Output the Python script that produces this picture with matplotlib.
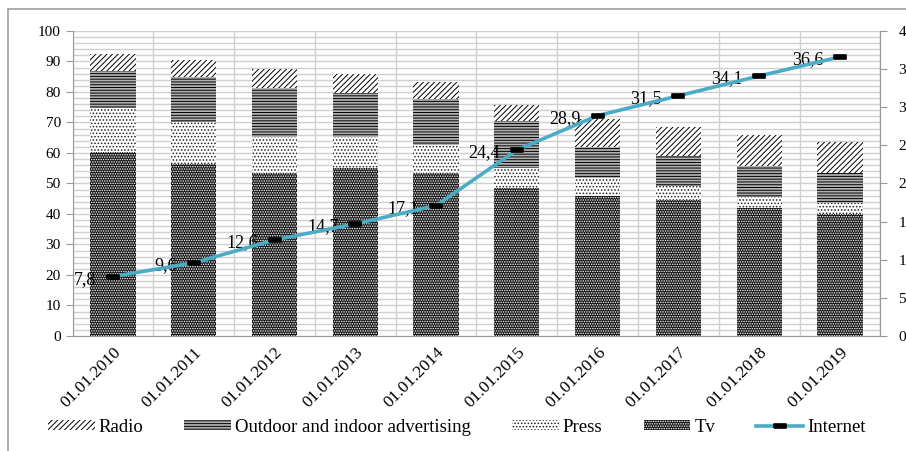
import numpy as np
import matplotlib
matplotlib.use('Agg')
import matplotlib.pyplot as plt
from matplotlib.lines import Line2D

plt.rcParams['font.family'] = ['Liberation Serif', 'DejaVu Serif']
plt.rcParams['hatch.linewidth'] = 0.7

# values (left axis, stacked)
years = ['01.01.2010', '01.01.2011', '01.01.2012', '01.01.2013', '01.01.2014',
         '01.01.2015', '01.01.2016', '01.01.2017', '01.01.2018', '01.01.2019']
tv       = [60.2, 56.3, 53.3, 55.0, 53.5, 48.6, 45.9, 44.6, 42.1, 40.0]
press    = [14.7, 13.8, 12.0, 10.3,  9.1,  6.6,  6.0,  4.7,  3.6,  3.5]
outdoor  = [12.0, 14.9, 16.1, 14.3, 15.0, 15.3, 10.2,  9.8, 10.1, 10.0]
radio    = [ 5.5,  5.5,  6.1,  6.2,  5.6,  5.2,  9.0,  9.3, 10.1, 10.0]
# right axis
internet = [7.8, 9.6, 12.6, 14.7, 17.1, 24.4, 28.9, 31.5, 34.1, 36.6]

fig = plt.figure(figsize=(9.06, 4.51), dpi=100)
ax = fig.add_axes([0.0801, 0.255, 0.8916, 0.6763])

x = np.arange(len(years))
w = 0.56
b1 = np.array(tv)
b2 = b1 + np.array(press)
b3 = b2 + np.array(outdoor)

h_tv = ax.bar(x, tv, w, color='#151515', edgecolor='white', hatch='.......',
              linewidth=0, label='Tv', zorder=3)
h_press = ax.bar(x, press, w, bottom=b1, color='white', edgecolor='#222222',
                 hatch='.....', linewidth=0, label='Press', zorder=3)
h_out = ax.bar(x, outdoor, w, bottom=b2, color='#b0b0b0', edgecolor='black',
               hatch='------', linewidth=0, label='Outdoor and indoor advertising', zorder=3)
h_radio = ax.bar(x, radio, w, bottom=b3, color='white', edgecolor='black',
                 hatch='//////', linewidth=0, label='Radio', zorder=3)

ax.set_xlim(-0.5, len(years) - 0.5)
ax.set_ylim(0, 100)
ax.set_yticks(range(0, 101, 10))
ax.set_yticks(range(0, 101, 2), minor=True)
ax.set_xticks(x)
ax.set_xticklabels(years, rotation=45, ha='right', rotation_mode='anchor', fontsize=12.5)
ax.set_xticks(np.arange(-0.5, len(years), 1), minor=True)
ax.tick_params(axis='x', which='both', length=0, pad=6)
ax.tick_params(axis='y', which='major', labelsize=11, length=5, color='#999999')
ax.tick_params(axis='y', which='minor', length=0)
ax.grid(axis='y', which='both', color='#cfcfcf', linewidth=1, zorder=0)
ax.grid(axis='x', which='minor', color='#cfcfcf', linewidth=1, zorder=0)
ax.set_axisbelow(True)
ax.spines['top'].set_visible(False)
for s in ['left', 'bottom', 'right']:
    ax.spines[s].set_color('#999999')

ax2 = ax.twinx()
ax2.set_ylim(0, 40)
ax2.set_yticks(range(0, 41, 5))
ax2.tick_params(axis='y', labelsize=11, length=5, color='#999999', pad=8)
for s in ['top', 'left', 'bottom']:
    ax2.spines[s].set_visible(False)
ax2.spines['right'].set_color('#999999')

rect = [(-1, -0.3), (1, -0.3), (1, 0.3), (-1, 0.3), (-1, -0.3)]
h_net, = ax2.plot(x, internet, color='#4bacc6', linewidth=2.6, marker=rect,
                  markersize=8, markerfacecolor='black', markeredgecolor='black',
                  markeredgewidth=1.2, label='Internet', zorder=5)
for xi, v in zip(x, internet):
    ax2.annotate(('%.1f' % v).replace('.', ','), (xi, v), xytext=(-12, -2),
                 textcoords='offset points', ha='right', va='center', fontsize=13)

fig.legend(handles=[h_radio, h_out, h_press, h_tv, h_net],
           loc='center', bbox_to_anchor=(0.504, 0.053), ncol=5, frameon=False,
           fontsize=13.5, handlelength=2.5, handleheight=0.5, handletextpad=0.2,
           columnspacing=2.2)

# outer frame of the original picture
fig.add_artist(Line2D([0.0088, 0.0088], [0, 0.98], transform=fig.transFigure,
                      color='#a0a0a0', linewidth=1.2))
fig.add_artist(Line2D([0.0088, 1], [0.98, 0.98], transform=fig.transFigure,
                      color='#a0a0a0', linewidth=1.2))

fig.savefig('out.png', dpi=100)
